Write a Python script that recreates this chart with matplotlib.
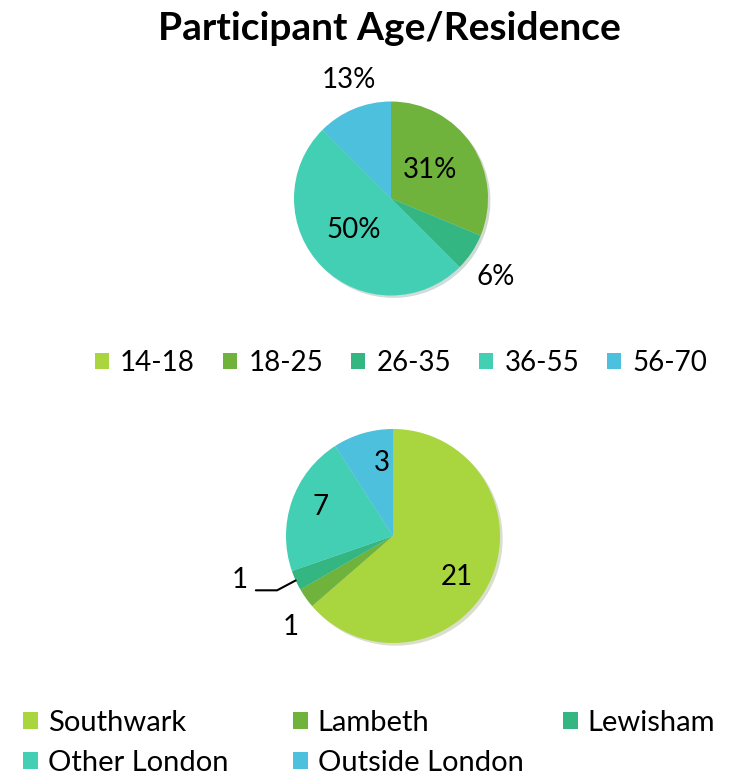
import numpy as np
import matplotlib
matplotlib.use("Agg")
import matplotlib.pyplot as plt

plt.rcParams['font.family'] = ['Lato', 'DejaVu Sans']

# ---- data ----
age_groups = ["14-18", "18-25", "26-35", "36-55", "56-70"]
age_counts = [0, 5, 1, 8, 2]
residence = ["Southwark", "Lambeth", "Lewisham", "Other London", "Outside London"]
residence_counts = [21, 1, 1, 7, 3]
title = "Participant Age/Residence"

colors = ["#A9D63E", "#70B33C", "#33B681", "#42CFB4", "#4CC0DC"]

W, H = 741, 778
fig = plt.figure(figsize=(W / 100, H / 100), dpi=100)
fs = 20


def pie_axes(cx, cy, r):
    return fig.add_axes([(cx - r) / W, 1 - (cy + r) / H, 2 * r / W, 2 * r / H])


shadow = {'ox': 0.018, 'oy': -0.018, 'shade': 0.5, 'alpha': 0.22}

# ---- top pie ----
ax1 = pie_axes(391, 198.5, 97)
w1, _ = ax1.pie(age_counts, colors=colors, startangle=90, counterclock=False,
                wedgeprops=dict(linewidth=0), shadow=shadow)
ax1.set_xlim(-1, 1); ax1.set_ylim(-1, 1)
total = sum(age_counts)
# label placement (radius factor, angle deg) per wedge with non-zero value
top_label_pos = {1: (0.5, 36.6), 2: (1.35, -36.6), 3: (0.5, -140), 4: (1.3, 109.4)}
for i, v in enumerate(age_counts):
    if v == 0:
        continue
    pct = int(np.floor(100 * v / total + 0.5))
    r, a = top_label_pos[i]
    ax1.text(r * np.cos(np.radians(a)), r * np.sin(np.radians(a)), f"{pct}%",
             ha='center', va='center', fontsize=fs)

fig.legend(w1, age_groups, loc='center', bbox_to_anchor=(401 / W, 1 - 363 / H),
           ncol=5, frameon=False, fontsize=fs, handlelength=0.52, handleheight=0.52,
           handletextpad=0.4, columnspacing=1.0, borderpad=0)

# ---- bottom pie ----
ax2 = pie_axes(393, 536, 107)
w2, _ = ax2.pie(residence_counts, colors=colors, startangle=90, counterclock=False,
                wedgeprops=dict(linewidth=0), shadow=shadow)
ax2.set_xlim(-1, 1); ax2.set_ylim(-1, 1)
bot_label_pos = {0: (0.71, -32.6), 1: (1.28, -138.5), 3: (0.73, 158.3), 4: (0.69, 99)}
for i, v in enumerate(residence_counts):
    if i in bot_label_pos:
        r, a = bot_label_pos[i]
        ax2.text(r * np.cos(np.radians(a)), r * np.sin(np.radians(a)), f"{v}",
                 ha='center', va='center', fontsize=fs)
# Lewisham label with leader line
wl = w2[2]
mid = np.radians((wl.theta1 + wl.theta2) / 2)
ax2.annotate(f"{residence_counts[2]}", xy=(np.cos(mid), np.sin(mid)),
             xytext=(-1.36, -0.49), ha='right', va='baseline', fontsize=fs,
             arrowprops=dict(arrowstyle='-', color='black', lw=1.5,
                             connectionstyle='angle,angleA=0,angleB=28,rad=0',
                             relpos=(1, 0.12), shrinkA=4, shrinkB=0))

# bottom legend laid out in fixed-width columns
cols_x = [23, 293, 563]
rows_y = [723, 763]
order = [(0, 0, 0), (1, 1, 0), (2, 2, 0), (3, 0, 1), (4, 1, 1)]
for idx, c, r in order:
    fig.legend([w2[idx]], [residence[idx]], loc='center left',
               bbox_to_anchor=(cols_x[c] / W, 1 - rows_y[r] / H),
               frameon=False, fontsize=21, handlelength=0.5, handleheight=0.5,
               handletextpad=0.35, borderpad=0, borderaxespad=0)

fig.text(389.5 / W, 1 - 28 / H, title, ha='center', va='center',
         fontsize=28, fontweight='bold')

fig.savefig("out.png", dpi=100)
